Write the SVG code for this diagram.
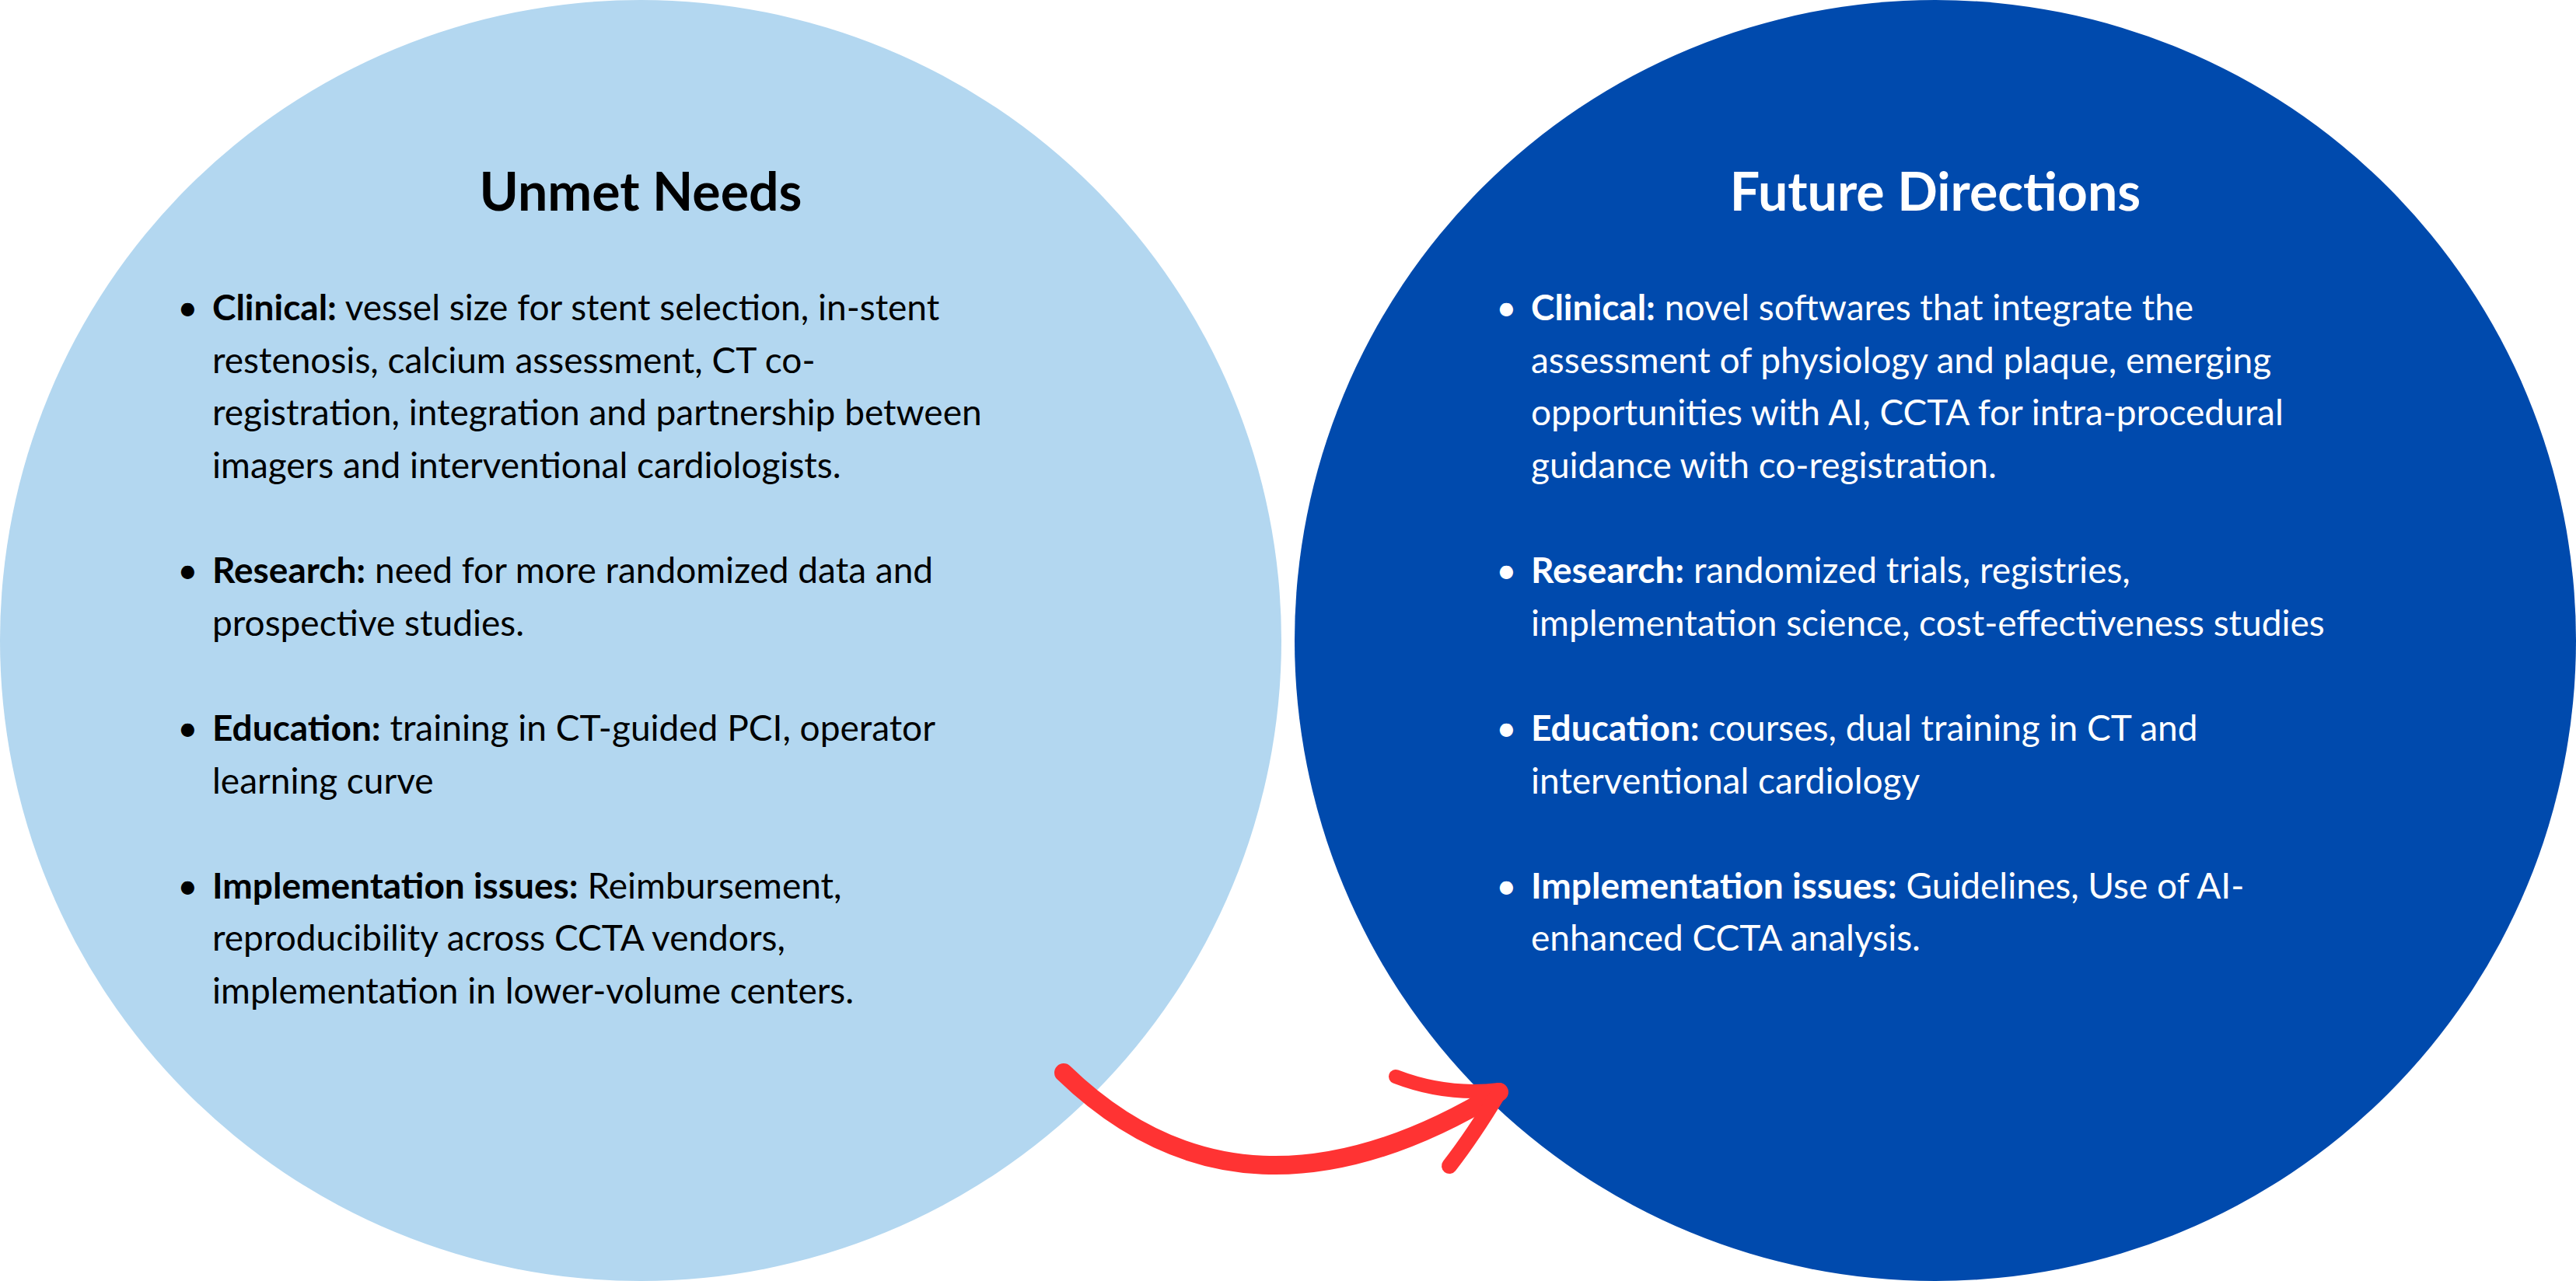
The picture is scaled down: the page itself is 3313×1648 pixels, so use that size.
<svg xmlns="http://www.w3.org/2000/svg" width="3313" height="1648" viewBox="0 0 3313 1648">
<style>
.t{font-family:Lato,"Open Sans",sans-serif;font-size:46px}
.h{font-family:Lato,"Open Sans",sans-serif;font-size:68px;font-weight:bold;text-anchor:middle}
.b{font-weight:bold}
.l{fill:#000}
.r{fill:#fff}
.arr{fill:none;stroke:#ff3333;stroke-linecap:round;stroke-linejoin:round}
</style>
<rect width="3313" height="1648" fill="#fff"/>
<g id="unmet-needs">
<circle cx="824" cy="824" r="824" fill="#b3d7f0"/>
<text class="h l" x="824" y="271">Unmet Needs</text>
<g class="t l">
<text x="228" y="412">•</text>
<text x="273" y="412"><tspan class="b">Clinical:</tspan> vessel size for stent selection, in-stent</text>
<text x="273" y="480">restenosis, calcium assessment, CT co-</text>
<text x="273" y="547">registration, integration and partnership between</text>
<text x="273" y="615">imagers and interventional cardiologists.</text>
<text x="228" y="750">•</text>
<text x="273" y="750"><tspan class="b">Research:</tspan> need for more randomized data and</text>
<text x="273" y="818">prospective studies.</text>
<text x="228" y="953">•</text>
<text x="273" y="953"><tspan class="b">Education:</tspan> training in CT-guided PCI, operator</text>
<text x="273" y="1021">learning curve</text>
<text x="228" y="1156">•</text>
<text x="273" y="1156"><tspan class="b">Implementation issues:</tspan> Reimbursement,</text>
<text x="273" y="1223">reproducibility across CCTA vendors,</text>
<text x="273" y="1291">implementation in lower-volume centers.</text>
</g>
</g>
<g id="future-directions">
<circle cx="2489" cy="824" r="824" fill="#004aad"/>
<text class="h r" x="2489" y="271">Future Directions</text>
<g class="t r">
<text x="1924" y="412">•</text>
<text x="1969" y="412"><tspan class="b">Clinical:</tspan> novel softwares that integrate the</text>
<text x="1969" y="480">assessment of physiology and plaque, emerging</text>
<text x="1969" y="547">opportunities with AI, CCTA for intra-procedural</text>
<text x="1969" y="615">guidance with co-registration.</text>
<text x="1924" y="750">•</text>
<text x="1969" y="750"><tspan class="b">Research:</tspan> randomized trials, registries,</text>
<text x="1969" y="818">implementation science, cost-effectiveness studies</text>
<text x="1924" y="953">•</text>
<text x="1969" y="953"><tspan class="b">Education:</tspan> courses, dual training in CT and</text>
<text x="1969" y="1021">interventional cardiology</text>
<text x="1924" y="1156">•</text>
<text x="1969" y="1156"><tspan class="b">Implementation issues:</tspan> Guidelines, Use of AI-</text>
<text x="1969" y="1223">enhanced CCTA analysis.</text>
</g>
</g>
<g id="connectors">
<path class="arr" stroke-width="24" d="M1368,1380 Q1600,1605 1928,1405"/>
<path class="arr" stroke-width="18" d="M1795,1385 Q1860,1410 1928,1402"/>
<path class="arr" stroke-width="20" d="M1928,1405 Q1895,1460 1864,1500"/>
</g>
</svg>
